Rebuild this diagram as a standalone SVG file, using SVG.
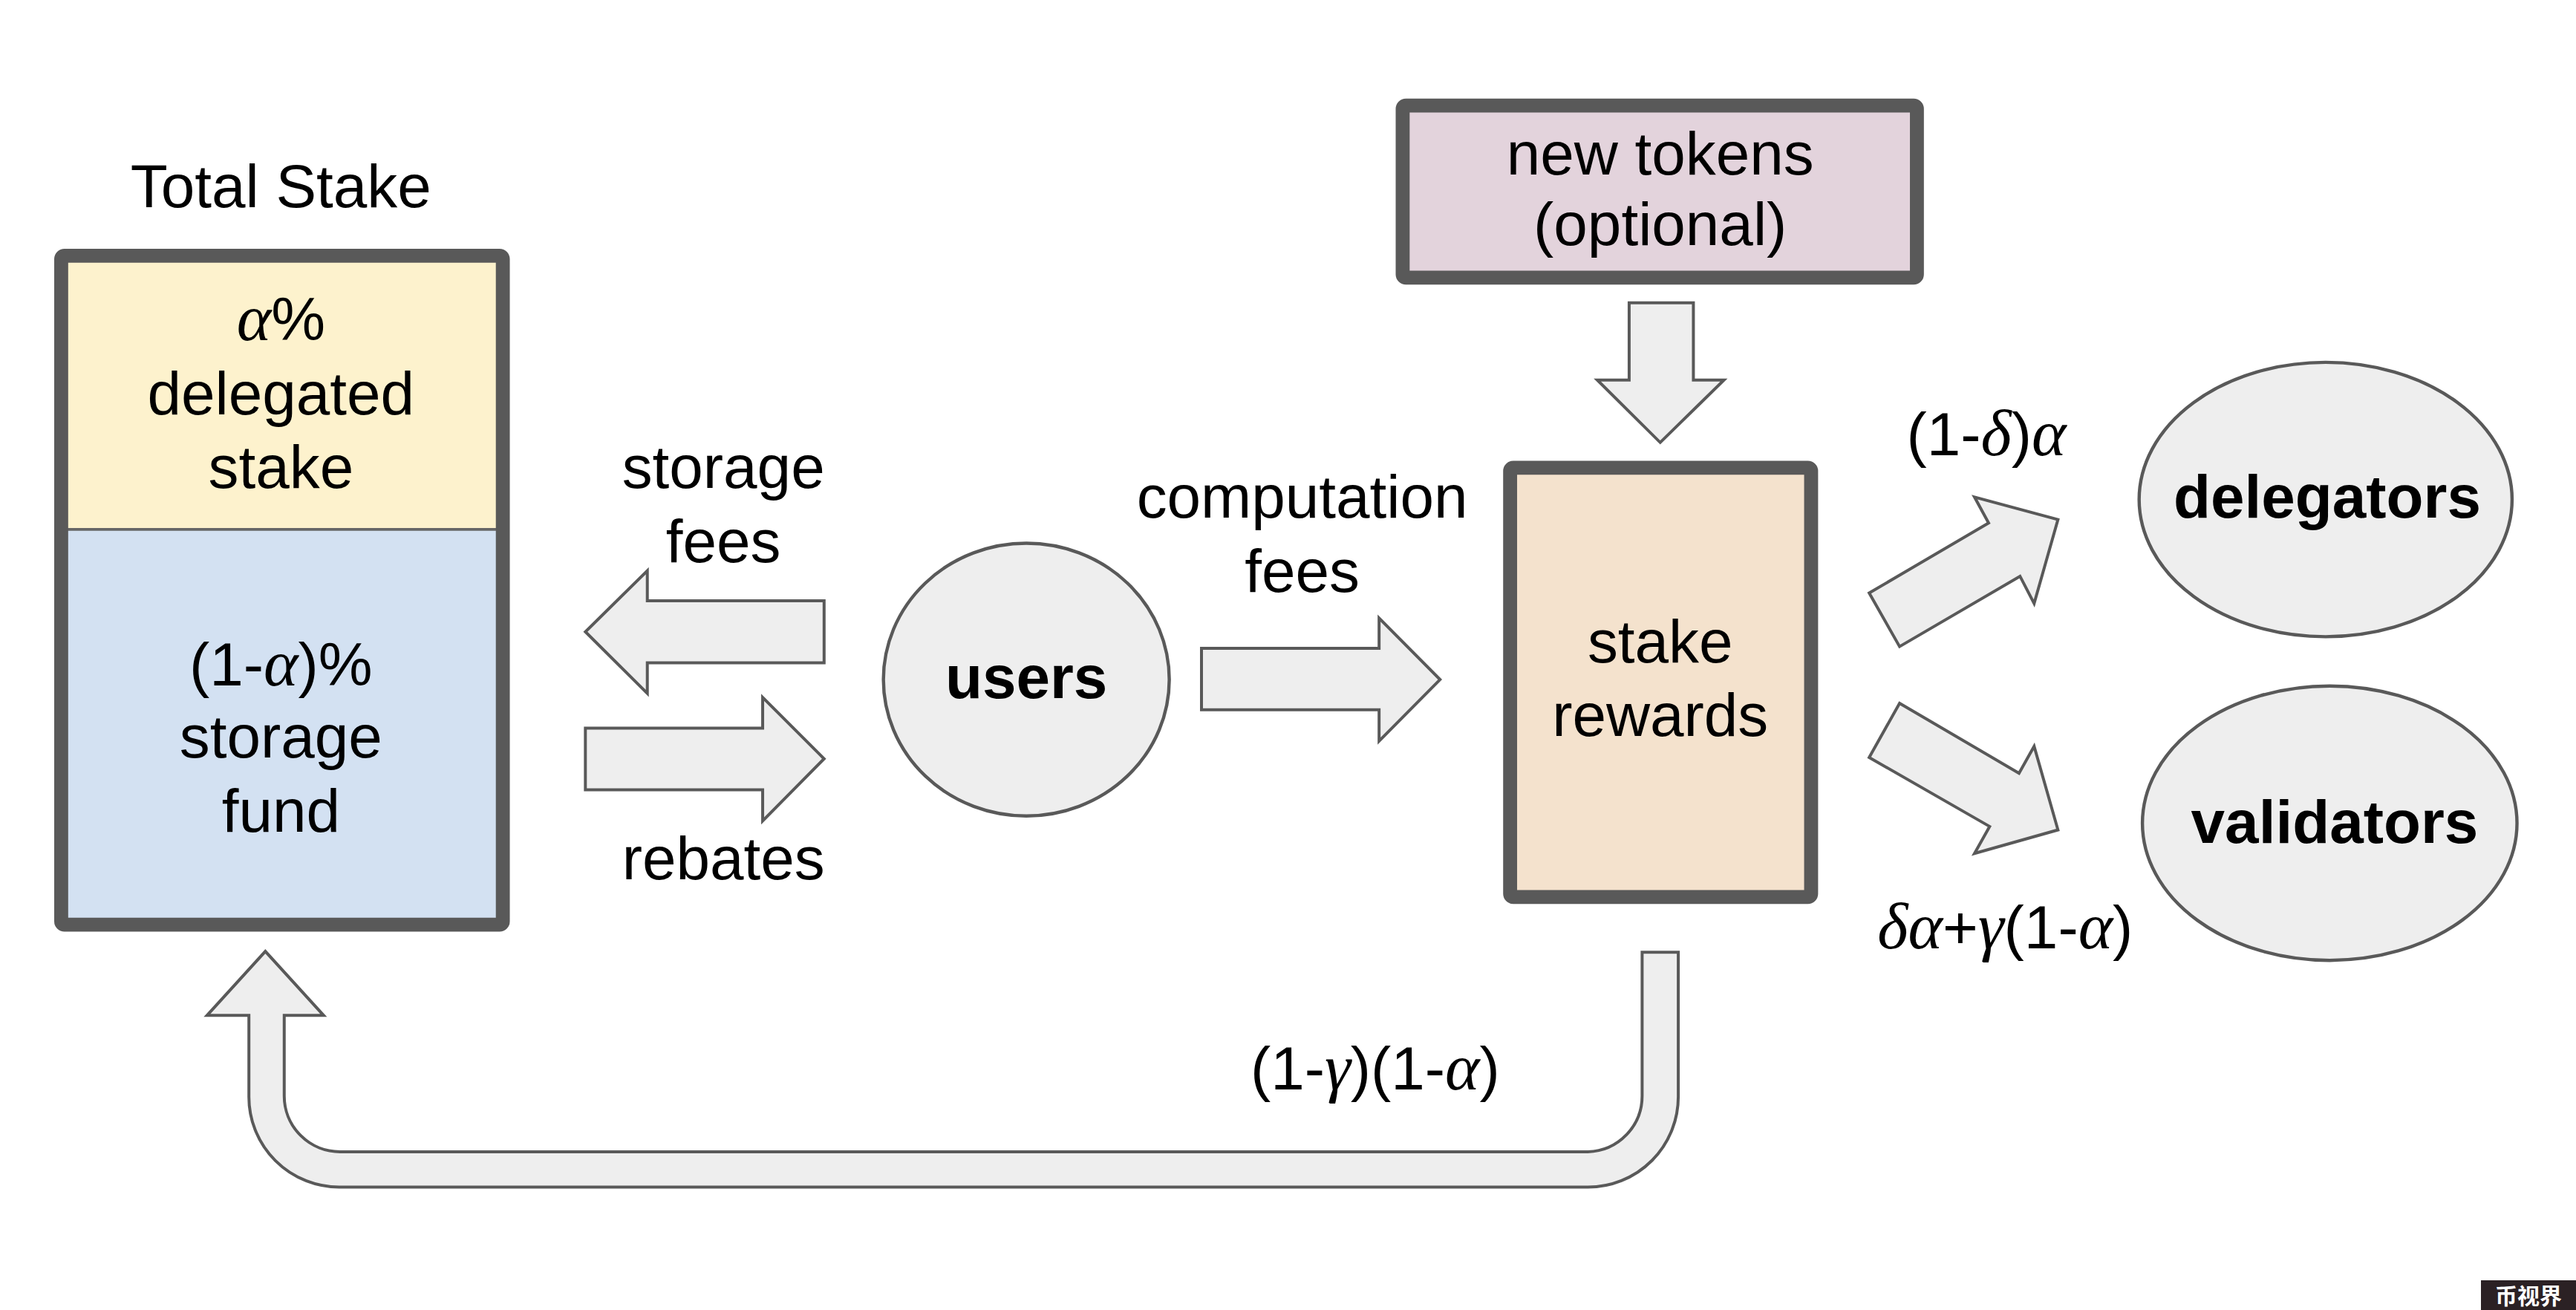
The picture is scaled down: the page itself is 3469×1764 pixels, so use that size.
<svg xmlns="http://www.w3.org/2000/svg" width="3469" height="1764" viewBox="0 0 3469 1764">
<style>
.t{font-family:"Liberation Sans",Arial,sans-serif;font-size:37px;fill:#000;text-anchor:middle}
.b{font-weight:bold}
.g{font-family:"Liberation Serif","Times New Roman",serif;font-style:italic;font-size:40px}
.box{stroke:#595959;stroke-width:8.5;stroke-linejoin:round}
.arr{fill:#eeeeee;stroke:#595959;stroke-width:1.8;stroke-linejoin:miter}
.ell{fill:#eeeeee;stroke:#595959;stroke-width:2}
</style>
<rect width="3469" height="1764" fill="#ffffff"/>
<g transform="scale(2.2125)">
  <g id="total-stake">
    <text class="t" x="171" y="126">Total Stake</text>
    <rect x="37.25" y="155.65" width="268.8" height="166.55" fill="#fdf2cd"/>
    <rect x="37.25" y="322.2" width="268.8" height="240.55" fill="#d3e1f2"/>
    <line x1="37.25" y1="322.2" x2="306.05" y2="322.2" stroke="#666666" stroke-width="1.6"/>
    <rect class="box" x="37.25" y="155.65" width="268.8" height="407.1" rx="2" fill="none"/>
    <text class="t" x="171" y="207"><tspan class="g">α</tspan>%</text>
    <text class="t" x="171" y="252">delegated</text>
    <text class="t" x="171" y="297">stake</text>
    <text class="t" x="171" y="417">(1-<tspan class="g">α</tspan>)%</text>
    <text class="t" x="171" y="461">storage</text>
    <text class="t" x="171" y="506">fund</text>
  </g>
  <g id="users">
    <ellipse class="ell" cx="624.7" cy="413.6" rx="87" ry="83"/>
    <text class="t b" x="624.7" y="425">users</text>
  </g>
  <g id="new-tokens">
    <rect class="box" x="853.75" y="64.25" width="313" height="104.7" rx="2" fill="#e3d3dc"/>
    <text class="t" x="1010.5" y="106">new tokens</text>
    <text class="t" x="1010.5" y="149">(optional)</text>
  </g>
  <g id="stake-rewards">
    <rect class="box" x="919.15" y="284.65" width="183.2" height="261.3" rx="2" fill="#f4e2cd"/>
    <text class="t" x="1010.5" y="403">stake</text>
    <text class="t" x="1010.5" y="448">rewards</text>
  </g>
  <g id="delegators">
    <ellipse class="ell" cx="1415.5" cy="304" rx="113.5" ry="83.5"/>
    <text class="t b" x="1416.5" y="315">delegators</text>
  </g>
  <g id="validators">
    <ellipse class="ell" cx="1418" cy="501" rx="114" ry="83.5"/>
    <text class="t b" x="1421" y="513">validators</text>
  </g>
  <g id="connectors">
    <polygon class="arr" points="501.6,365.6 394,365.6 394,347.4 356.3,384.5 394,422 394,403.4 501.6,403.4"/>
    <text class="t" x="440.3" y="297">storage</text>
    <text class="t" x="440.3" y="342">fees</text>
    <polygon class="arr" points="356.3,443.2 464.2,443.2 464.2,424.4 501.6,461.8 464.2,499.6 464.2,480.7 356.3,480.7"/>
    <text class="t" x="440.3" y="535">rebates</text>
    <polygon class="arr" points="731.3,394.6 839.4,394.6 839.4,376.2 876.5,413.6 839.4,451 839.4,432 731.3,432"/>
    <text class="t" x="792.6" y="315">computation</text>
    <text class="t" x="792.6" y="360">fees</text>
    <polygon class="arr" points="991.6,184.3 1030.7,184.3 1030.7,231.3 1049.3,231.3 1010.5,269.3 972.2,231.3 991.6,231.3"/>
    <polygon class="arr" points="1137.7,360.9 1210.4,318.3 1201.8,302.5 1252.6,316.2 1238.1,367.3 1229.5,350.7 1156.2,393.5"/>
    <text class="t" x="1209" y="277">(1-<tspan class="g">δ</tspan>)<tspan class="g">α</tspan></text>
    <polygon class="arr" points="1156.2,428 1228.9,470.6 1238.1,454.2 1252.6,505.1 1201.8,519.4 1211,503 1137.7,461"/>
    <text class="t" x="1220.5" y="577"><tspan class="g">δα</tspan>+<tspan class="g">γ</tspan>(1-<tspan class="g">α</tspan>)</text>
    <path class="arr" d="M 999.5 579.6 L 1021.5 579.6 L 1021.5 667 A 55 55 0 0 1 966.5 722.5 L 207 722.5 A 55 55 0 0 1 151.5 667 L 151.5 618 L 126 618 L 161.5 579 L 197 618 L 173 618 L 173 667 A 34 34 0 0 0 207 701 L 966.5 701 A 34 34 0 0 0 999.5 667 Z"/>
    <text class="t" x="837" y="663">(1-<tspan class="g">γ</tspan>)(1-<tspan class="g">α</tspan>)</text>
  </g>
</g>
<g id="watermark">
  <rect x="3341" y="1724" width="128" height="40" fill="#2b2124"/>
  <text x="3405" y="1756" style="font-family:'Noto Sans CJK SC',sans-serif;font-weight:bold;font-size:30px;fill:#ffffff;text-anchor:middle">币视界</text>
</g>
</svg>
